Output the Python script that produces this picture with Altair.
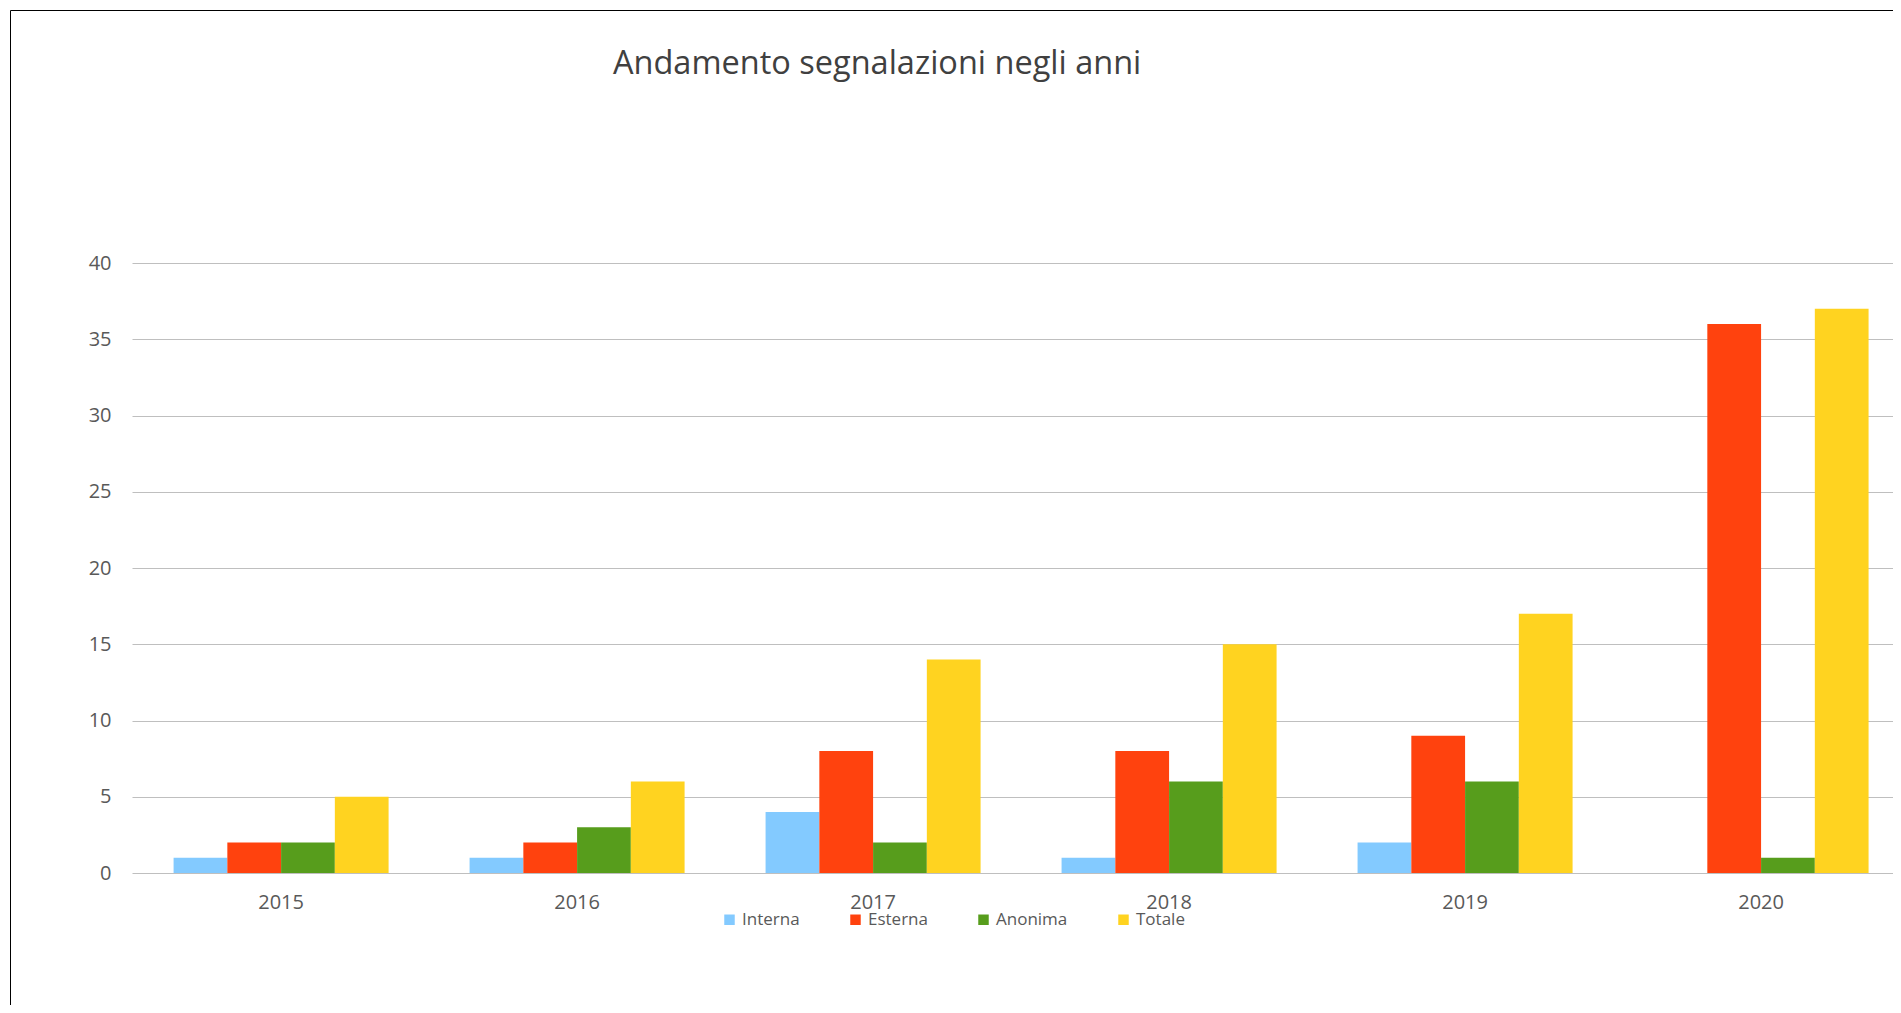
import altair as alt
import pandas as pd

years = ["2015", "2016", "2017", "2018", "2019", "2020"]
series = ["Interna", "Esterna", "Anonima", "Totale"]
interna = [1, 1, 4, 1, 2, 0]
esterna = [2, 2, 8, 8, 9, 36]
anonima = [2, 3, 2, 6, 6, 1]
totale = [5, 6, 14, 15, 17, 37]
colors = ["#83caff", "#ff420e", "#579d1c", "#ffd320"]
title_text = "Andamento segnalazioni negli anni"
y_ticks = [0, 5, 10, 15, 20, 25, 30, 35, 40]

rows = []
for name, vals in zip(series, [interna, esterna, anonima, totale]):
    for yr, v in zip(years, vals):
        rows.append({"anno": yr, "tipo": name, "valore": v})
df = pd.DataFrame(rows)

FONT = "Open Sans"
W, H = 1761, 610

bars = alt.Chart(df).mark_bar().encode(
    x=alt.X("anno:N", sort=years, title=None,
            scale=alt.Scale(paddingInner=0.2736, paddingOuter=0.1115, align=0.63),
            axis=alt.Axis(labelAngle=0, labelFont=FONT, labelFontSize=20,
                          labelColor="#595959", labelPadding=19, ticks=False,
                          domain=False, grid=False)),
    xOffset=alt.XOffset("tipo:N", sort=series,
                        scale=alt.Scale(paddingInner=0, paddingOuter=0)),
    y=alt.Y("valore:Q", title=None,
            scale=alt.Scale(domain=[0, 40], nice=False),
            axis=alt.Axis(values=y_ticks, labelFont=FONT, labelFontSize=20,
                          labelColor="#595959", labelPadding=21, ticks=False,
                          domain=False, grid=True, gridColor="#bfbfbf",
                          gridWidth=1)),
    color=alt.Color("tipo:N", sort=series,
                    scale=alt.Scale(domain=series, range=colors),
                    legend=alt.Legend(title=None, orient="none", legendX=589,
                                      legendY=648, direction="horizontal",
                                      symbolType="square", symbolSize=110,
                                      symbolStrokeWidth=0,
                                      labelFont=FONT, labelFontSize=17,
                                      labelColor="#595959", labelOffset=4,
                                      columnPadding=47, padding=0)),
)

title = alt.Chart(pd.DataFrame({"t": [title_text]})).mark_text(
    align="left", baseline="alphabetic", font=FONT, fontSize=32.5,
    color="#404040"
).encode(text="t:N", x=alt.value(481), y=alt.value(-189))

frame = alt.Chart(pd.DataFrame({"a": [0]})).mark_rect(
    fill=None, fillOpacity=0, stroke="#000000", strokeWidth=1
).encode(x=alt.value(-121.5), x2=alt.value(1800), y=alt.value(-252.5),
         y2=alt.value(800))

chart = alt.layer(bars, title, frame).properties(
    width=W, height=H,
    autosize=alt.AutoSizeParams(type="none"),
    padding={"left": 124, "top": 255, "right": 0, "bottom": 132},
).configure_view(stroke=None)

chart.save("out.html", embed_options={"renderer": "svg", "actions": False})
